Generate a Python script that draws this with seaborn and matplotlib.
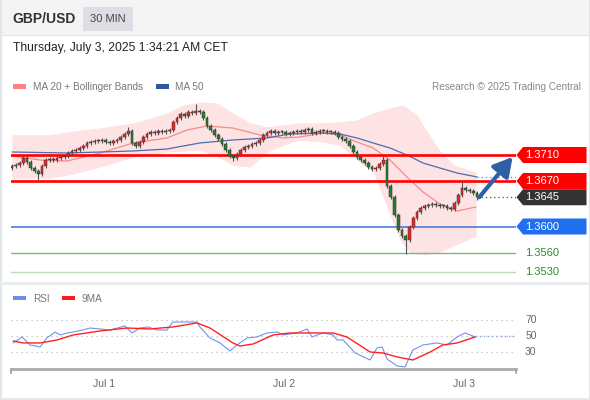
import numpy as np
import pandas as pd
import matplotlib
matplotlib.use('Agg')
import matplotlib.pyplot as plt
from matplotlib.patches import Polygon, Rectangle
from matplotlib.lines import Line2D
import seaborn as sns

W, H = 590, 400

# 30 min candles, Jun 30 11:30 -> Jul 3 01:30
start_time = '2025-06-30 11:30'
first_open = 1.36900
closes = [
    1.36931, 1.36946, 1.36977, 1.37054, 1.36992, 1.36900, 1.36854, 1.36808, 1.36931, 1.37023,
    1.37038, 1.37023, 1.37054, 1.37069, 1.37085, 1.37131, 1.37162, 1.37177, 1.37208, 1.37238,
    1.37285, 1.37300, 1.37315, 1.37315, 1.37331, 1.37300, 1.37285, 1.37315, 1.37331, 1.37377,
    1.37423, 1.37469, 1.37285, 1.37238, 1.37300, 1.37377, 1.37423, 1.37454, 1.37438, 1.37469,
    1.37454, 1.37469, 1.37485, 1.37608, 1.37669, 1.37731, 1.37700, 1.37762, 1.37746, 1.37777,
    1.37762, 1.37669, 1.37546, 1.37485, 1.37408, 1.37346, 1.37269, 1.37177, 1.37085, 1.37054,
    1.37115, 1.37177, 1.37223, 1.37238, 1.37269, 1.37285, 1.37331, 1.37408, 1.37438, 1.37469,
    1.37438, 1.37454, 1.37454, 1.37423, 1.37438, 1.37454, 1.37469, 1.37454, 1.37485, 1.37500,
    1.37438, 1.37454, 1.37469, 1.37469, 1.37454, 1.37454, 1.37438, 1.37377, 1.37346, 1.37315,
    1.37238, 1.37146, 1.37069, 1.37023, 1.36977, 1.36915, 1.36885, 1.36900, 1.36962, 1.37023,
    1.36623, 1.36454, 1.36177, 1.35946, 1.35854, 1.35792, 1.35992, 1.36131, 1.36223, 1.36285,
    1.36315, 1.36331, 1.36346, 1.36331, 1.36315, 1.36315, 1.36285, 1.36269, 1.36362, 1.36485,
    1.36592, 1.36562, 1.36546, 1.36515, 1.36450,
]
wick = 0.00035
spike_high_idx = [31, 49, 99, 120]
spike_high_val = [1.37530, 1.37885, 1.37080, 1.36680]
spike_low_idx = [7, 59, 105]
spike_low_val = [1.36715, 1.37008, 1.35580]

# Bollinger bands (MA 20) and MA 50, sampled along the candle index
band_idx = [0, 10.1, 14.7, 23.5, 32.3, 36.8, 41.3, 45.6, 50.1, 54.7, 58.9, 63.5, 68, 72.3,
            76.8, 82.9, 87.5, 92, 96.3, 100.8, 104.3, 108, 111.5, 114.9, 117.6, 123.7]
band_upper = [1.37408, 1.37408, 1.37454, 1.37515, 1.37592, 1.37608, 1.37746, 1.37869, 1.37915,
              1.37900, 1.37746, 1.37592, 1.37531, 1.37562, 1.37592, 1.37592, 1.37608, 1.37638,
              1.37746, 1.37823, 1.37869, 1.37715, 1.37377, 1.37100, 1.36946, 1.36838]
low_idx = [0, 10.1, 14.7, 23.5, 32.3, 41.3, 50.1, 54.1, 58.9, 63.5, 68, 72.3, 76.8, 82.9,
           87.5, 92, 96.3, 98.9, 100.8, 103.5, 106.1, 110.1, 114.1, 118.1, 123.7]
band_lower = [1.36746, 1.36746, 1.36792, 1.36915, 1.37069, 1.37146, 1.37177, 1.37100, 1.36946,
              1.36915, 1.37146, 1.37254, 1.37331, 1.37300, 1.37254, 1.37023, 1.36838, 1.36715,
              1.36177, 1.35792, 1.35592, 1.35562, 1.35608, 1.35715, 1.35854]
ma20_idx = [0, 7.5, 14.7, 23.5, 32.3, 41.3, 46.7, 52, 58.9, 66.1, 72.3, 76.8, 82.9, 87.5,
            92, 96.3, 100.8, 105.3, 109.6, 114.1, 118.7, 123.7]
ma20 = [1.37085, 1.37023, 1.37008, 1.37131, 1.37285, 1.37362, 1.37485, 1.37546, 1.37515,
        1.37408, 1.37362, 1.37377, 1.37438, 1.37408, 1.37300, 1.37208, 1.37023, 1.36762,
        1.36531, 1.36346, 1.36238, 1.36300]
ma50_idx = [0, 14.7, 23.5, 32.3, 41.3, 50.1, 58.9, 68, 74.1, 82.9, 87.5, 92, 96.3, 100.8,
            105.3, 109.6, 114.1, 118.7, 124]
ma50 = [1.37146, 1.37131, 1.37146, 1.37162, 1.37192, 1.37285, 1.37331, 1.37362, 1.37423,
        1.37438, 1.37423, 1.37362, 1.37285, 1.37208, 1.37100, 1.36977, 1.36900, 1.36823, 1.36762]

# RSI panel
rsi_idx = [0.3, 2.7, 4.8, 7.5, 9.3, 11.5, 12.8, 14.7, 16.3, 18.9, 20.8, 23.5, 26.1, 30.1, 32,
           34.1, 36.3, 38.7, 41.3, 42.9, 45.3, 49.3, 50.1, 52.8, 55.5, 58.1, 60, 62.7, 65.3,
           68, 70.7, 72.3, 76, 78.7, 80, 82.9, 85.6, 86.7, 88.3, 91.5, 95.5, 97.3, 98.7, 100,
           102.7, 104.8, 106.9, 109.6, 113.3, 116, 118.7, 120.8, 123.5]
rsi = [41.3, 48.8, 38.8, 36.3, 47.5, 55, 51.3, 53.8, 55, 57.5, 60, 58.8, 57.5, 62.5, 53.8,
       60, 61.3, 57.5, 57.5, 67.5, 67.5, 67.5, 61.3, 47.5, 41.3, 31.3, 38.8, 47.5, 48.8,
       53.8, 55, 51.3, 53.8, 58.8, 48.8, 53.8, 51.3, 45, 45, 28.8, 20, 35, 36.3, 21.3,
       12.5, 11.3, 32.5, 38.8, 41.3, 38.8, 48.8, 53.8, 48.8]
rsi_ma_idx = [0.3, 2.9, 7.5, 12, 16.3, 23.5, 30.7, 36.8, 42.9, 49.3, 52.8, 58.9, 60.8, 64.3,
              69.6, 74.1, 79.5, 85.6, 89.3, 95.5, 98.9, 102.7, 106.9, 111.5, 114.9, 118.7, 123.5]
rsi_ma = [43.8, 41.3, 41.3, 45, 51.3, 56.3, 60, 58.8, 61.3, 66.3, 60, 41.3, 37.5, 40, 51.3,
          53.8, 53.8, 53.8, 48.8, 30, 28.8, 23.8, 20, 30, 38.8, 41.3, 48.8]
rsi_levels = [70, 50, 30]

# key levels
resistances = [1.3710, 1.3670]
last_price = 1.3645
pivot = 1.3600
supports = [1.3560, 1.3530]
target = 1.3707

# colours
RED_C = '#e8262b'
GREEN_C = '#2c7a2c'
BAND = '#fde3e3'
MA20_C = '#f58b8b'
MA50_C = '#4a6eae'

sns.set_style('white')
plt.rcParams['font.family'] = ['Liberation Sans', 'DejaVu Sans']

fig = plt.figure(figsize=(W / 100, H / 100), dpi=100)
fig.patch.set_facecolor('white')


def box(x0, y0, x1, y1):
    return [x0 / W, 1 - y1 / H, (x1 - x0) / W, (y1 - y0) / H]


def ftext(x, y, s, **kw):
    fig.text(x / W, 1 - y / H, s, **kw)


def frect(x0, y0, x1, y1, color, z=0):
    fig.add_artist(Rectangle((x0 / W, 1 - y1 / H), (x1 - x0) / W, (y1 - y0) / H,
                             transform=fig.transFigure, facecolor=color,
                             edgecolor='none', zorder=z))


def fline(x0, y0, x1, y1, color, lw):
    fig.add_artist(Line2D([x0 / W, x1 / W], [1 - y0 / H, 1 - y1 / H],
                          transform=fig.transFigure, color=color, lw=lw))


# header and frame
frect(0, 0, W, 35, '#f4f4f4')
fline(0, 35, W, 35, '#e6e6e6', 0.8)
frect(83, 7, 133, 31, '#dcdee3', z=1)
ftext(12, 19, 'GBP/USD', fontsize=10, fontweight='bold', color='#333333', va='center')
ftext(108, 19.5, '30 MIN', fontsize=8, color='#444444', va='center', ha='center')
ftext(13, 48, 'Thursday, July 3, 2025 1:34:21 AM CET', fontsize=8.7, color='#222222', va='center')
fline(0.5, 0, 0.5, H, '#e3e6ea', 1.5)
fline(W - 0.5, 0, W - 0.5, H, '#e3e6ea', 1.5)
fline(0, H - 1.5, W, H - 1.5, '#e3e6ea', 2)
fline(0, 283, W, 283, '#e8ebef', 2)

# legends
frect(13, 84, 26, 89, '#ff8080')
ftext(33, 86.5, 'MA 20 + Bollinger Bands', fontsize=7.2, color='#777777', va='center')
frect(156, 84, 169, 89, '#2e5a9c')
ftext(175, 86.5, 'MA 50', fontsize=7.2, color='#777777', va='center')
ftext(581, 86.5, 'Research \u00a9 2025 Trading Central', fontsize=7.2, color='#888888',
      va='center', ha='right')
frect(13, 296, 26, 301, '#6a8fe3')
ftext(33, 298.5, 'RSI', fontsize=7.2, color='#777777', va='center')
frect(62, 296, 75, 301, '#ff1a1a')
ftext(82, 298.5, '9MA', fontsize=7.2, color='#777777', va='center')

# ---- main price panel ----
n = len(closes)
idx = np.arange(n)
c = np.array(closes)
o = np.array([first_open] + closes[:-1])
hi = np.maximum(o, c) + wick
lo = np.minimum(o, c) - wick
hi[spike_high_idx] = np.maximum(hi[spike_high_idx], spike_high_val)
lo[spike_low_idx] = np.minimum(lo[spike_low_idx], spike_low_val)
up = c >= o

xlim = (-0.27, 134.4)
ylim = (1.3710 - 125 / 6500, 1.3710 + 60 / 6500)

ax = fig.add_axes(box(11, 95, 516, 280))
ax.set_xlim(*xlim)
ax.set_ylim(*ylim)
ax.axis('off')

ax.fill_between(band_idx, np.interp(band_idx, low_idx, band_lower), band_upper,
                color=BAND, lw=0, zorder=1)
ax.fill_between(low_idx, band_lower, np.interp(low_idx, band_idx, band_upper),
                color=BAND, lw=0, zorder=1)
sns.lineplot(x=ma20_idx, y=ma20, ax=ax, color=MA20_C, lw=0.9, zorder=2)
sns.lineplot(x=ma50_idx, y=ma50, ax=ax, color=MA50_C, lw=0.9, zorder=2)

for lvl in resistances:
    ax.axhline(lvl, color='#ff0000', lw=1.9, zorder=3)
ax.axhline(pivot, color='#3f72d8', lw=1.1, zorder=3)
ax.axhline(supports[0], color='#7fb87f', lw=1.0, zorder=3)
ax.axhline(supports[1], color='#b9dcb5', lw=1.0, zorder=3)

ax.vlines(idx, lo, hi, color='#555555', lw=0.8, zorder=4)
body = np.maximum(np.abs(c - o), 0.0001)
ax.bar(idx, body, bottom=np.minimum(o, c), width=0.74,
       color=np.where(up, RED_C, GREEN_C), edgecolor='#333333', linewidth=0.35, zorder=5)

ax.plot([n - 1, xlim[1]], [last_price, last_price], ls=(0, (1, 2)), color='#666666', lw=1, zorder=3)
ax.plot([ma50_idx[-1], xlim[1]], [ma50[-1], ma50[-1]], ls=(0, (1, 2)), color='#7f98c8', lw=1, zorder=3)

ax.annotate('', xy=(133.5, target), xytext=(124.6, last_price),
            arrowprops=dict(arrowstyle='-|>,head_width=0.45,head_length=0.8',
                            color='#2f5fa5', lw=3, mutation_scale=14, shrinkA=0, shrinkB=0),
            zorder=6)

# right-hand price tags
lab = fig.add_axes(box(516, 95, 590, 280))
lab.set_xlim(0, 74)
lab.set_ylim(*ylim)
lab.axis('off')
hh = 8 / 6500


def tag(p, color):
    lab.add_patch(Polygon([(0.5, p), (7, p + hh), (70.5, p + hh), (70.5, p - hh), (7, p - hh)],
                          closed=True, facecolor=color, edgecolor='none'))
    lab.text(9.5, p, f'{p:.4f}', color='white', fontsize=8, va='center', ha='left')


tag(resistances[0], '#ff0000')
tag(resistances[1], '#ff0000')
tag(last_price, '#333333')
tag(pivot, '#1f6fee')
for s in supports:
    lab.text(9.5, s, f'{s:.4f}', color='#2e8b2e', fontsize=8, va='center', ha='left')

# ---- RSI panel ----
r = fig.add_axes(box(11, 300, 516, 369))
r.set_xlim(*xlim)
r.set_ylim(8.75, 95)
for lvl in rsi_levels:
    r.axhline(lvl, color='#bdbdbd', lw=0.9, ls=(0, (1, 3)), zorder=1)
    r.text(1.018, lvl, str(lvl), transform=r.get_yaxis_transform(), fontsize=7.5,
           color='#666666', va='center', ha='left')
r.plot([rsi_idx[-1], xlim[1]], [50, 50], ls=(0, (1, 2)), color='#8ea6e6', lw=1, zorder=2)
sns.lineplot(x=rsi_idx, y=rsi, ax=r, color='#7393e6', lw=0.8, zorder=3)
sns.lineplot(x=rsi_ma_idx, y=rsi_ma, ax=r, color='#ff2222', lw=1.0, zorder=4)

for side in ['top', 'right', 'left']:
    r.spines[side].set_visible(False)
r.spines['bottom'].set_color('#aaaaaa')
r.spines['bottom'].set_linewidth(2)
for xe in [0, 1]:
    r.add_line(Line2D([xe, xe], [0, -0.06], transform=r.transAxes, color='#aaaaaa',
                      lw=1.5, clip_on=False))
r.set_yticks([])

times = pd.date_range(start_time, periods=n, freq='30min')
mid = np.where((times.hour == 0) & (times.minute == 0))[0]
r.set_xticks(mid - 0.4, [f'Jul {times[i].day}' for i in mid])
r.tick_params(axis='x', length=0, pad=7, labelsize=7.5, labelcolor='#666666')
r.set_xlabel('')
r.set_ylabel('')
ax.set_xlabel('')
ax.set_ylabel('')

fig.savefig('out.png', dpi=100)
